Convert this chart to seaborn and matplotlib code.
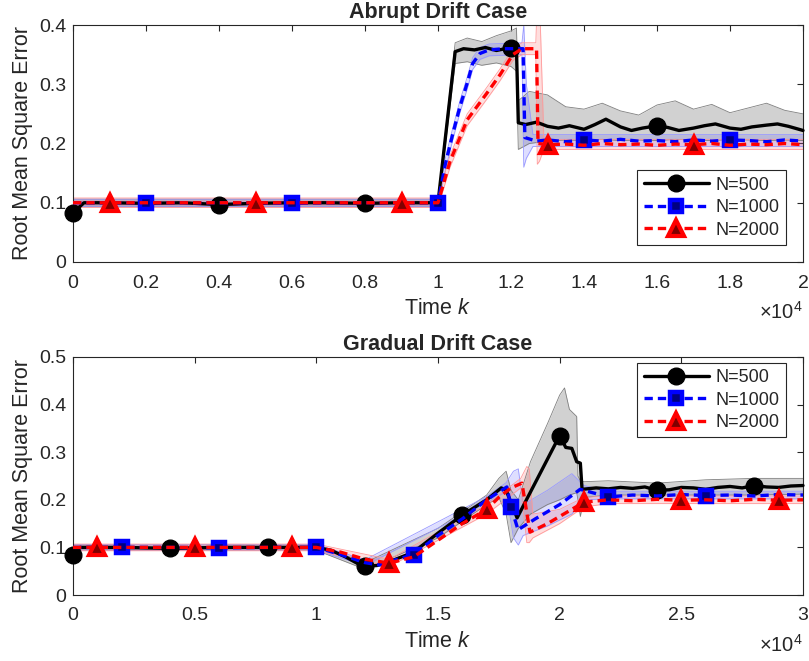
import matplotlib
matplotlib.use('Agg')
import matplotlib.pyplot as plt
from matplotlib.ticker import FuncFormatter, MultipleLocator
import seaborn as sns

# ---------------- Abrupt drift case (time k, 0 .. 2e4) ----------------
abrupt_black_t = [0, 300, 1000, 2000, 3000, 4000, 5000, 6000, 7000, 8000,
                  9000, 10000, 10470, 10700, 11000, 11300, 11600, 12000, 12150, 12200,
                  12400, 12700, 13000, 13300, 13600, 14000, 14300, 14600, 15000, 15300,
                  15600, 16000, 16300, 16600, 17000, 17300, 17600, 18000, 18300, 18600,
                  19000, 19300, 19600, 20000]
abrupt_black_v = [0.083, 0.1, 0.1, 0.099, 0.1, 0.097, 0.099, 0.1, 0.1, 0.099,
                  0.1, 0.1, 0.355, 0.36, 0.358, 0.362, 0.357, 0.362, 0.36, 0.235,
                  0.232, 0.236, 0.229, 0.226, 0.23, 0.224, 0.232, 0.241, 0.228, 0.222,
                  0.226, 0.23, 0.227, 0.222, 0.226, 0.23, 0.233, 0.226, 0.224, 0.228,
                  0.231, 0.233, 0.229, 0.222]
abrupt_black_marks = [0, 4000, 8000, 12000, 16000]

abrupt_blue_t = [0, 1000, 2000, 3000, 4000, 5000, 6000, 7000, 8000, 9000, 10000,
                 10200, 10400, 10600, 10800, 10950, 11150, 11400, 11800, 12000,
                 12330, 12380, 12700, 13000, 13500, 14000, 14500, 15000, 15500, 16000,
                 16500, 17000, 17500, 18000, 18500, 19000, 19500, 20000]
abrupt_blue_v = [0.1, 0.1, 0.1, 0.1, 0.1, 0.1, 0.099, 0.1, 0.1, 0.1, 0.1,
                 0.165, 0.215, 0.262, 0.302, 0.335, 0.352, 0.358, 0.36, 0.36,
                 0.36, 0.21, 0.204, 0.206, 0.203, 0.206, 0.204, 0.207, 0.204, 0.205,
                 0.203, 0.206, 0.204, 0.206, 0.205, 0.203, 0.206, 0.204]
abrupt_blue_marks = [2000, 6000, 10000, 14000, 18000]

abrupt_red_t = [0, 1000, 2000, 3000, 4000, 5000, 6000, 7000, 8000, 9000, 10000,
                10330, 10800, 11340, 11700, 12050, 12300, 12700, 12740,
                13000, 13500, 14000, 14500, 15000, 15500, 16000, 16500, 17000, 17500,
                18000, 18500, 19000, 19500, 20000]
abrupt_red_v = [0.1, 0.1, 0.1, 0.1, 0.1, 0.1, 0.1, 0.1, 0.1, 0.1, 0.1,
                0.17, 0.24, 0.285, 0.316, 0.35, 0.36, 0.36, 0.2,
                0.198, 0.199, 0.197, 0.2, 0.198, 0.199, 0.197, 0.199, 0.198, 0.2,
                0.197, 0.199, 0.198, 0.2, 0.198]
abrupt_red_marks = [1000, 5000, 9000, 13000, 17000]

abrupt_gray_t = [0, 10000, 10470, 10800, 11200, 11600, 12000, 12150, 12200, 12500,
                 13000, 13500, 14000, 14500, 15000, 15500, 16000, 16500, 17000, 17500,
                 18000, 18500, 19000, 19500, 20000]
abrupt_gray_hi = [0.106, 0.106, 0.37, 0.378, 0.372, 0.382, 0.39, 0.395, 0.272, 0.288,
                  0.282, 0.262, 0.258, 0.268, 0.255, 0.248, 0.265, 0.272, 0.258, 0.266,
                  0.252, 0.26, 0.268, 0.256, 0.25]
abrupt_gray_lo = [0.094, 0.094, 0.335, 0.338, 0.332, 0.336, 0.33, 0.322, 0.19, 0.2,
                  0.204, 0.206, 0.205, 0.207, 0.205, 0.206, 0.205, 0.207, 0.206, 0.205,
                  0.207, 0.206, 0.205, 0.206, 0.205]

abrupt_blueband_t = [0, 10000, 10200, 10400, 10600, 10800, 10950, 11150, 11400, 12300,
                     12350, 12420, 12600, 20000]
abrupt_blueband_hi = [0.106, 0.106, 0.175, 0.225, 0.272, 0.312, 0.345, 0.362, 0.368, 0.37,
                      0.4, 0.3, 0.215, 0.215]
abrupt_blueband_lo = [0.094, 0.094, 0.155, 0.205, 0.252, 0.292, 0.325, 0.342, 0.348, 0.35,
                      0.16, 0.175, 0.195, 0.195]

abrupt_redband_t = [0, 10000, 10330, 10800, 11340, 11700, 12050, 12300, 12680, 12720,
                    12780, 12900, 20000]
abrupt_redband_hi = [0.108, 0.108, 0.18, 0.25, 0.295, 0.326, 0.36, 0.37, 0.37, 0.45,
                     0.45, 0.207, 0.207]
abrupt_redband_lo = [0.092, 0.092, 0.16, 0.23, 0.275, 0.306, 0.34, 0.35, 0.35, 0.165,
                     0.17, 0.19, 0.19]

# ---------------- Gradual drift case (time k, 0 .. 3e4) ----------------
gradual_black_t = [0, 300, 2000, 4000, 6000, 8000, 10000, 10600, 11200, 11700,
                   12000, 12500, 13000, 14000, 15000, 16000, 17000, 17600, 17800, 18250,
                   20000, 20250, 20500, 20700, 20850, 20920, 21500, 22000, 22500, 23000,
                   23500, 24000, 24500, 25000, 25500, 26000, 26500, 27000, 27500, 28000,
                   28500, 29000, 29500, 30000]
gradual_black_v = [0.085, 0.1, 0.1, 0.098, 0.1, 0.1, 0.1, 0.094, 0.08, 0.066,
                   0.06, 0.062, 0.07, 0.09, 0.13, 0.168, 0.2, 0.225, 0.22, 0.162,
                   0.335, 0.31, 0.308, 0.28, 0.277, 0.222, 0.225, 0.223, 0.226, 0.224,
                   0.227, 0.22, 0.221, 0.226, 0.225, 0.222, 0.226, 0.228, 0.225, 0.23,
                   0.227, 0.226, 0.229, 0.23]
gradual_black_marks = [0, 4000, 8000, 12000, 16000, 20000, 24000, 28000]

gradual_blue_t = [0, 2000, 4000, 6000, 8000, 10000, 11000, 12000, 12600, 13000,
                  14000, 15000, 16000, 17000, 17830, 18000, 18290, 19000, 20000, 20840,
                  22000, 23000, 24000, 25000, 26000, 27000, 28000, 29000, 30000]
gradual_blue_v = [0.1, 0.1, 0.1, 0.099, 0.1, 0.1, 0.085, 0.068, 0.063, 0.07,
                  0.085, 0.125, 0.16, 0.2, 0.227, 0.185, 0.137, 0.16, 0.19, 0.222,
                  0.206, 0.21, 0.208, 0.211, 0.209, 0.21, 0.208, 0.211, 0.21]
gradual_blue_marks = [2000, 6000, 10000, 14000, 18000, 22000, 26000]

gradual_red_t = [0, 1000, 3000, 5000, 7000, 9000, 10000, 11000, 12000, 13000,
                 14000, 15000, 16000, 17000, 17500, 18000, 18450, 18780, 19500, 20000,
                 21000, 22000, 23000, 24000, 25000, 26000, 27000, 28000, 29000, 30000]
gradual_red_v = [0.1, 0.1, 0.1, 0.1, 0.1, 0.1, 0.1, 0.09, 0.075, 0.067,
                 0.08, 0.115, 0.15, 0.18, 0.205, 0.225, 0.235, 0.132, 0.15, 0.165,
                 0.195, 0.2, 0.198, 0.201, 0.199, 0.2, 0.198, 0.201, 0.199, 0.2]
gradual_red_marks = [1000, 5000, 9000, 13000, 17000, 21000, 25000, 29000]

gradual_gray_t = [0, 10000, 12000, 15000, 17000, 17500, 17800, 18000, 18300, 18800,
                  19500, 20000, 20200, 20400, 20700, 20750, 20850, 21000, 22000, 24000,
                  26000, 28000, 30000]
gradual_gray_hi = [0.106, 0.106, 0.068, 0.14, 0.21, 0.245, 0.26, 0.22, 0.2, 0.28,
                   0.36, 0.42, 0.435, 0.39, 0.375, 0.25, 0.24, 0.238, 0.24, 0.235,
                   0.242, 0.245, 0.245]
gradual_gray_lo = [0.094, 0.094, 0.054, 0.12, 0.19, 0.205, 0.17, 0.11, 0.14, 0.17,
                   0.19, 0.2, 0.205, 0.21, 0.215, 0.2, 0.165, 0.205, 0.21, 0.21,
                   0.21, 0.21, 0.212]

gradual_blueband_t = [0, 10000, 12000, 17000, 17800, 18100, 18300, 18500, 19500, 20500,
                      21000, 22000, 30000]
gradual_blueband_hi = [0.106, 0.106, 0.074, 0.207, 0.236, 0.26, 0.265, 0.19, 0.22, 0.255,
                       0.23, 0.218, 0.218]
gradual_blueband_lo = [0.094, 0.094, 0.062, 0.193, 0.218, 0.12, 0.105, 0.125, 0.145, 0.17,
                       0.2, 0.202, 0.202]

gradual_redband_t = [0, 10000, 13000, 17000, 18400, 18650, 18750, 18900, 20000, 21000,
                     22000, 30000]
gradual_redband_hi = [0.107, 0.107, 0.075, 0.19, 0.245, 0.27, 0.265, 0.17, 0.18, 0.205,
                      0.208, 0.208]
gradual_redband_lo = [0.093, 0.093, 0.06, 0.17, 0.225, 0.11, 0.11, 0.12, 0.15, 0.185,
                      0.192, 0.192]

series_labels = ['N=500', 'N=1000', 'N=2000']

AX_COLOR = '#262626'

sns.set_style('white')
plt.rcParams['font.family'] = ['Liberation Sans', 'DejaVu Sans']
plt.rcParams['mathtext.fontset'] = 'custom'
plt.rcParams['mathtext.rm'] = 'Liberation Sans'
plt.rcParams['mathtext.it'] = 'Liberation Sans:italic'


def draw_band(ax, t, lo, hi, face, edge, alpha):
    ax.fill_between(t, lo, hi, facecolor=face, alpha=alpha, linewidth=0, zorder=1)
    ax.plot(t, lo, color=edge, lw=0.6, zorder=1.5)
    ax.plot(t, hi, color=edge, lw=0.6, zorder=1.5)


def draw_series(ax, t, v, marks, label, color, ls, marker, ms, mfc, mew):
    idx = [t.index(m) for m in marks]
    sns.lineplot(x=t, y=v, ax=ax, estimator=None, color=color, lw=2.4,
                 linestyle=ls, marker=marker, markevery=idx, ms=ms,
                 mfc=mfc, mec=color, mew=mew, label=label, clip_on=False, zorder=3)


def style_axes(ax, xmax, xstep, ymax, title):
    ax.set_xlim(0, xmax)
    ax.set_ylim(0, ymax)
    ax.xaxis.set_major_locator(MultipleLocator(xstep))
    ax.yaxis.set_major_locator(MultipleLocator(0.1))
    ax.xaxis.set_major_formatter(FuncFormatter(lambda v, _: f'{v / 1e4:g}'))
    ax.yaxis.set_major_formatter(FuncFormatter(lambda v, _: f'{v:g}'))
    ax.tick_params(direction='in', length=4, width=0.8, colors=AX_COLOR,
                   labelsize=14, top=True, right=True, pad=5)
    ax.tick_params(axis='x', pad=9)
    for sp in ax.spines.values():
        sp.set_visible(True)
        sp.set_color(AX_COLOR)
        sp.set_linewidth(0.8)
    ax.set_title(title, fontsize=15.5, fontweight='bold', pad=5)
    ax.set_xlabel('Time $k$', fontsize=15.5, color=AX_COLOR, labelpad=5)
    ax.set_ylabel('Root Mean Square Error', fontsize=15.5, color=AX_COLOR, labelpad=4)
    ax.text(1.0, -0.21, r'$\times\mathregular{10^{4}}$', transform=ax.transAxes,
            ha='right', va='center', fontsize=14.5, color=AX_COLOR)


def draw_panel(ax, bands, lines):
    gray, blue, red = bands
    draw_band(ax, *gray, face='#9a9a9a', edge='#7f7f7f', alpha=0.45)
    draw_band(ax, *blue, face='#4d4dff', edge='#9999ff', alpha=0.18)
    draw_band(ax, *red, face='#ff4d4d', edge='#ff9999', alpha=0.18)
    black, bl, rd = lines
    draw_series(ax, *black, series_labels[0], 'black', '-', 'o', 12, 'black', 1.0)
    draw_series(ax, *bl, series_labels[1], '#0000ff', (0, (2.5, 1.5)), 's', 8.5, '#000080', 3.2)
    draw_series(ax, *rd, series_labels[2], '#ff0000', (0, (2.5, 1.5)), '^', 12, '#800000', 3.0)


fig = plt.figure(figsize=(8.09, 6.61), dpi=100)
ax1 = fig.add_axes([73 / 809, 1 - 262 / 661, 730 / 809, 237 / 661])
ax2 = fig.add_axes([73 / 809, 1 - 595 / 661, 730 / 809, 238 / 661])

draw_panel(ax1,
           [(abrupt_gray_t, abrupt_gray_lo, abrupt_gray_hi),
            (abrupt_blueband_t, abrupt_blueband_lo, abrupt_blueband_hi),
            (abrupt_redband_t, abrupt_redband_lo, abrupt_redband_hi)],
           [(abrupt_black_t, abrupt_black_v, abrupt_black_marks),
            (abrupt_blue_t, abrupt_blue_v, abrupt_blue_marks),
            (abrupt_red_t, abrupt_red_v, abrupt_red_marks)])
style_axes(ax1, 20000, 2000, 0.4, 'Abrupt Drift Case')

draw_panel(ax2,
           [(gradual_gray_t, gradual_gray_lo, gradual_gray_hi),
            (gradual_blueband_t, gradual_blueband_lo, gradual_blueband_hi),
            (gradual_redband_t, gradual_redband_lo, gradual_redband_hi)],
           [(gradual_black_t, gradual_black_v, gradual_black_marks),
            (gradual_blue_t, gradual_blue_v, gradual_blue_marks),
            (gradual_red_t, gradual_red_v, gradual_red_marks)])
style_axes(ax2, 30000, 5000, 0.5, 'Gradual Drift Case')

legend_kw = dict(fontsize=13, handlelength=3.6, borderpad=0.35, labelspacing=0.3,
                 handletextpad=0.4, fancybox=False, framealpha=1, edgecolor=AX_COLOR,
                 borderaxespad=0)
leg1 = ax1.legend(loc='lower right', bbox_to_anchor=(0.977, 0.072), **legend_kw)
leg2 = ax2.legend(loc='upper right', bbox_to_anchor=(0.977, 0.975), **legend_kw)
for leg in (leg1, leg2):
    leg.get_frame().set_linewidth(0.8)

fig.savefig('out.png', dpi=100)
